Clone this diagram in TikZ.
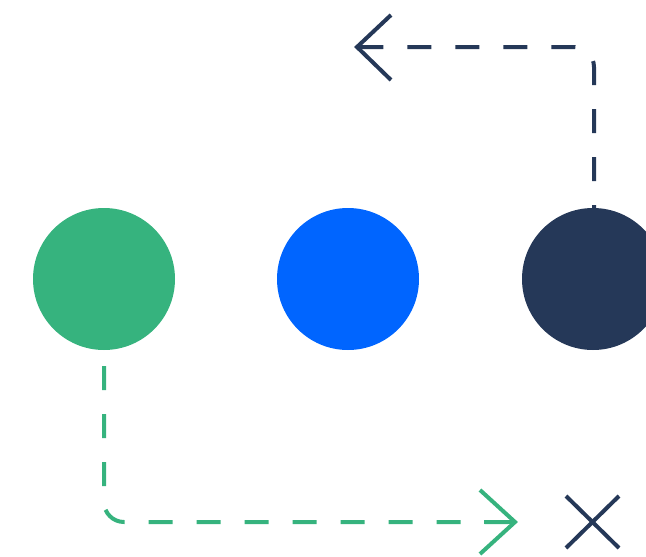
\documentclass[tikz,border=0pt]{standalone}
\definecolor{cgreen}{HTML}{36B37E}
\definecolor{cblue}{HTML}{0065FF}
\definecolor{cdark}{HTML}{253858}
\begin{document}
\begin{tikzpicture}[x=1pt,y=-1pt,
  dot/.style={circle,minimum size=142pt,inner sep=0pt,draw=none},
  flow/.style={line width=4pt,dash pattern=on 24pt off 24pt,rounded corners=20pt},
  tipline/.style={line width=4pt,line cap=butt,line join=miter}]
\useasboundingbox (0,0) rectangle (646,557);
\clip (0,0) rectangle (646,557);
% dark connector (drawn first, starts under the dark circle)
\coordinate (ds) at (594,229);
\coordinate (dc) at (594,47);
\coordinate (de) at (357,47);
\draw[flow,cdark] (ds) -- (dc) -- (de);
\draw[tipline,cdark] ([shift={(34,-32)}]de) -- (de) -- ([shift={(34,33)}]de);
% circles
\node[dot,fill=cgreen] (g) at (104,279) {};
\node[dot,fill=cblue] (b) at (348,279) {};
\node[dot,fill=cdark] (d) at (593,279) {};
% green connector
\coordinate (gs) at (104,366);
\coordinate (gc) at (104,522);
\coordinate (ge) at (515,522);
\draw[flow,cgreen] (gs) -- (gc) -- (ge);
\draw[tipline,cgreen] ([shift={(-35,-32)}]ge) -- (ge) -- ([shift={(-35,32)}]ge);
\draw[tipline,cgreen] ([xshift=-31]ge) -- (ge);
% cross
\coordinate (x) at (592.5,522);
\draw[tipline,cdark] ([shift={(-26.5,-26)}]x) -- ([shift={(26.5,26)}]x);
\draw[tipline,cdark] ([shift={(26.5,-26)}]x) -- ([shift={(-26.5,26)}]x);
\end{tikzpicture}
\end{document}
